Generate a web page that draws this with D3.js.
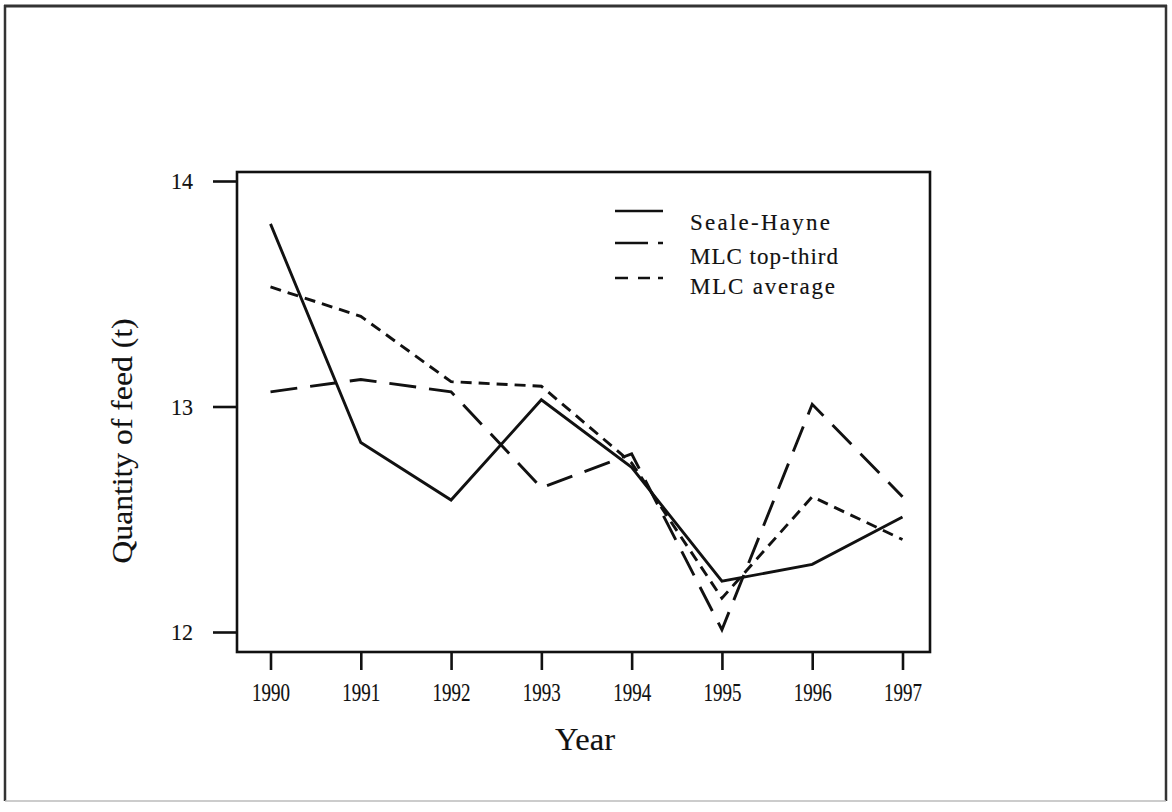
<!DOCTYPE html>
<html>
<head>
<meta charset="utf-8">
<script src="https://cdn.jsdelivr.net/npm/d3@7"></script>
<style>
  html, body { margin: 0; padding: 0; background: #fff; }
  svg { display: block; }
  text { font-family: "Liberation Serif", "Times New Roman", serif; fill: #111; stroke: #111; stroke-width: 0.15; }
</style>
</head>
<body>
<svg id="chart" width="1172" height="812"></svg>
<script>
// Annual feed use per cow (tonnes), 1990-1997
const years = [1990, 1991, 1992, 1993, 1994, 1995, 1996, 1997];
const sealeHayne = [13.81, 12.84, 12.585, 13.03, 12.73, 12.225, 12.30, 12.51];
const mlcTopThird = [13.065, 13.12, 13.065, 12.64, 12.79, 12.01, 13.01, 12.60];
const mlcAverage = [13.53, 13.40, 13.11, 13.09, 12.75, 12.15, 12.60, 12.41];
const yTicks = [12, 13, 14];
const seriesNames = ["Seale-Hayne", "MLC top-third", "MLC average"];

const svg = d3.select("#chart");

// page border
svg.append("line").attr("x1", 4).attr("x2", 1167).attr("y1", 6).attr("y2", 6)
  .attr("stroke", "#333").attr("stroke-width", 3);
svg.append("line").attr("x1", 5).attr("x2", 5).attr("y1", 5).attr("y2", 801)
  .attr("stroke", "#333").attr("stroke-width", 2.5);
svg.append("line").attr("x1", 1166).attr("x2", 1166).attr("y1", 5).attr("y2", 801)
  .attr("stroke", "#333").attr("stroke-width", 2.5);
svg.append("line").attr("x1", 5).attr("x2", 1166).attr("y1", 801).attr("y2", 801)
  .attr("stroke", "#bbb").attr("stroke-width", 1.5);

const plot = { left: 237, top: 172, right: 930, bottom: 652 };

const x = d3.scaleLinear().domain([1990, 1997]).range([270.5, 902.5]);
const y = d3.scaleLinear().domain([12, 14]).range([632, 181]);

// plot frame
svg.append("rect")
  .attr("x", plot.left).attr("y", plot.top)
  .attr("width", plot.right - plot.left).attr("height", plot.bottom - plot.top)
  .attr("fill", "none").attr("stroke", "#111").attr("stroke-width", 2.6);

// y axis
const yAxis = svg.append("g")
  .attr("transform", `translate(${plot.left},0)`)
  .call(d3.axisLeft(y).tickValues(yTicks).tickSize(24).tickPadding(20).tickFormat(d3.format("d")));
yAxis.select(".domain").remove();
yAxis.selectAll(".tick line").attr("stroke", "#111").attr("stroke-width", 2.6);
yAxis.selectAll(".tick text").attr("font-size", 24).attr("font-family", "Liberation Serif")
  .attr("fill", "#111").attr("textLength", 22).attr("lengthAdjust", "spacingAndGlyphs");

// x axis
const xAxis = svg.append("g")
  .attr("transform", `translate(0,${plot.bottom})`)
  .call(d3.axisBottom(x).tickValues(years).tickSize(18).tickPadding(13).tickFormat(d3.format("d")));
xAxis.select(".domain").remove();
xAxis.selectAll(".tick line").attr("stroke", "#111").attr("stroke-width", 2.6);
xAxis.selectAll(".tick text").attr("font-size", 25).attr("font-family", "Liberation Serif")
  .attr("fill", "#111").attr("textLength", 38).attr("lengthAdjust", "spacingAndGlyphs");

// axis titles
svg.append("text").attr("x", 585).attr("y", 750).attr("text-anchor", "middle")
  .attr("font-size", 32).attr("textLength", 60).attr("lengthAdjust", "spacingAndGlyphs").text("Year");
svg.append("text").attr("transform", "translate(132,441) rotate(-90)")
  .attr("text-anchor", "middle").attr("font-size", 30)
  .attr("textLength", 245).attr("lengthAdjust", "spacingAndGlyphs").text("Quantity of feed (t)");

// series
const series = [
  { name: seriesNames[0], values: sealeHayne, dash: null },
  { name: seriesNames[1], values: mlcTopThird, dash: "27,13" },
  { name: seriesNames[2], values: mlcAverage, dash: "11,7" }
];

const line = d3.line().x((d, i) => x(years[i])).y(d => y(d));

svg.append("g").selectAll("path").data(series).join("path")
  .attr("d", d => line(d.values))
  .attr("fill", "none").attr("stroke", "#111").attr("stroke-width", 2.9)
  .attr("stroke-linejoin", "miter")
  .attr("stroke-dasharray", d => d.dash);

// legend
const legendRows = [
  { lineY: 211, textY: 230, width: 140, dash: null },
  { lineY: 243, textY: 264, width: 148, dash: "33,10,5,100" },
  { lineY: 278, textY: 294, width: 145, dash: "13,10,12,8,5,100" }
];
const legend = svg.append("g");
legendRows.forEach((r, i) => {
  legend.append("line").attr("x1", 615).attr("x2", 663).attr("y1", r.lineY).attr("y2", r.lineY)
    .attr("stroke", "#111").attr("stroke-width", 2.6).attr("stroke-dasharray", r.dash);
  legend.append("text").attr("x", 690).attr("y", r.textY).attr("font-size", 23)
    .attr("textLength", r.width).attr("lengthAdjust", "spacing").text(seriesNames[i]);
});
</script>
</body>
</html>
